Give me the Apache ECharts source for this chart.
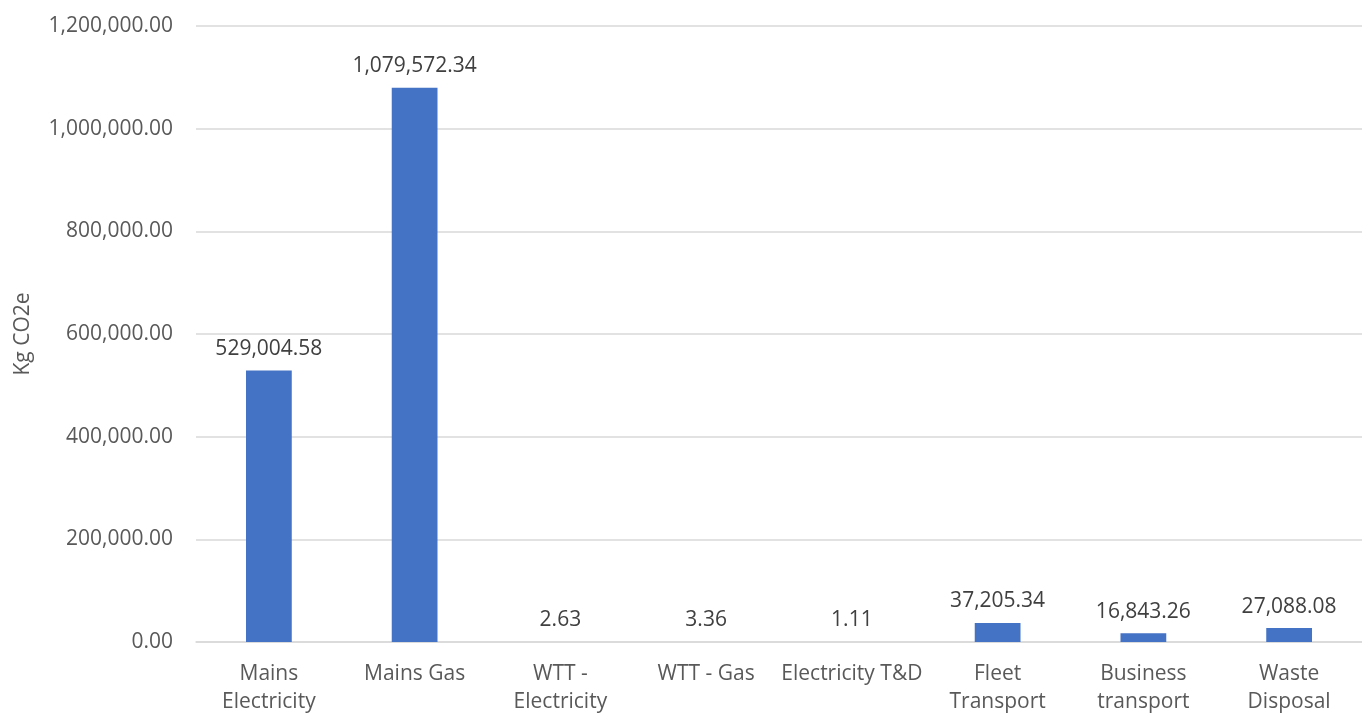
<!DOCTYPE html>
<html>
<head>
<meta charset="utf-8">
<script src="https://cdn.jsdelivr.net/npm/echarts@6/dist/echarts.min.js"></script>
<style>
  html, body { margin: 0; padding: 0; background: #fff; }
  #chart { width: 1362px; height: 716px; }
</style>
</head>
<body>
<div id="chart"></div>
<script>
const categories = [
  "Mains\nElectricity",
  "Mains Gas",
  "WTT -\nElectricity",
  "WTT - Gas",
  "Electricity T&D",
  "Fleet\nTransport",
  "Business\ntransport",
  "Waste\nDisposal",
];
const emissions = [529004.58, 1079572.34, 2.63, 3.36, 1.11, 37205.34, 16843.26, 27088.08];
const yTicks = [0, 200000, 400000, 600000, 800000, 1000000, 1200000];

const fontFamily = "'Open Sans', 'Noto Sans', sans-serif";
const fontSize = 21;
const fmt = (v) =>
  v.toLocaleString("en-US", { minimumFractionDigits: 2, maximumFractionDigits: 2 });

const chart = echarts.init(document.getElementById("chart"), null, { renderer: "canvas" });

chart.setOption({
  animation: false,
  grid: { left: 196, right: -7, top: 26, bottom: 71 },
  xAxis: {
    type: "category",
    data: categories,
    axisLine: { lineStyle: { color: "#d9d9d9", width: 1.5 } },
    axisTick: { show: false },
    axisLabel: {
      color: "#595959",
      fontFamily,
      fontSize,
      lineHeight: 28,
      margin: 18,
      interval: 0,
    },
  },
  yAxis: {
    type: "value",
    min: yTicks[0],
    max: yTicks[yTicks.length - 1],
    interval: 200000,
    name: "Kg CO2e",
    nameLocation: "middle",
    nameGap: 162,
    nameTextStyle: { color: "#595959", fontFamily, fontSize },
    axisLine: { show: false },
    axisTick: { show: false },
    axisLabel: {
      color: "#595959",
      fontFamily,
      fontSize,
      margin: 23,
      formatter: (v) => fmt(v),
    },
    splitLine: { lineStyle: { color: "#d9d9d9", width: 1.5 } },
  },
  series: [
    {
      type: "bar",
      data: emissions,
      barWidth: "31.4%",
      itemStyle: { color: "#4472c4" },
      label: {
        show: true,
        position: "top",
        distance: 11,
        color: "#404040",
        fontFamily,
        fontSize,
        formatter: (p) => fmt(p.value),
      },
    },
  ],
});
</script>
</body>
</html>
